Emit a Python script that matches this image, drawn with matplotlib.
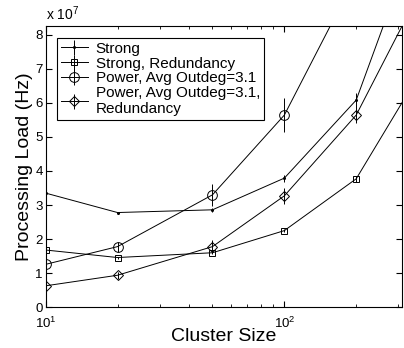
import numpy as np
import matplotlib
matplotlib.use("Agg")
import matplotlib.pyplot as plt

plt.rcParams['font.family'] = ['Liberation Sans', 'DejaVu Sans']
plt.rcParams['mathtext.fontset'] = 'custom'
plt.rcParams['mathtext.rm'] = 'Liberation Sans'

# cluster sizes (last point lies beyond the axis and is clipped)
sizes = [10, 20, 50, 100, 200, 500]

# processing load, in units of 1e7 Hz
strong = [3.35, 2.78, 2.86, 3.79, 6.08, 13.7]
strong_err = [0.0, 0.03, 0.05, 0.1, 0.22, 0.3]
strong_red = [1.68, 1.46, 1.60, 2.25, 3.77, 8.4]
strong_red_err = [0.0, 0.03, 0.05, 0.05, 0.08, 0.1]
power = [1.26, 1.78, 3.30, 5.64, 9.73, 20.0]
power_err = [0.05, 0.15, 0.33, 0.49, 0.6, 0.8]
power_red = [0.63, 0.94, 1.78, 3.27, 5.64, 11.05]
power_red_err = [0.03, 0.1, 0.2, 0.23, 0.23, 0.3]

labels = ['Strong', 'Strong, Redundancy', 'Power, Avg Outdeg=3.1',
          'Power, Avg Outdeg=3.1,\nRedundancy']

fig = plt.figure(figsize=(4.04, 3.48), dpi=100)
ax = fig.add_axes([0.113, 0.117, 0.882, 0.808])

series = [(strong, strong_err, '.', 3),
          (strong_red, strong_red_err, 's', 5),
          (power, power_err, 'o', 7),
          (power_red, power_red_err, 'D', 5.5)]

handles = []
for (vals, err, mk, ms), lab in zip(series, labels):
    h = ax.errorbar(sizes, vals, yerr=err, color='black', lw=0.7, elinewidth=0.7,
                    capsize=0, marker=mk, ms=ms, mfc='none', mec='black', mew=0.7,
                    label=lab)
    handles.append(h)

ax.set_xscale('log')
ax.set_xlim(10, 311)
ax.set_ylim(0, 8.25)
ax.set_yticks(range(0, 9))
ax.tick_params(which='both', direction='in', top=True, right=True, labelsize=9.5, pad=2)
ax.tick_params(axis='x', which='both', pad=6)
ax.tick_params(which='major', length=4)
ax.tick_params(which='minor', length=2.5)
for s in ax.spines.values():
    s.set_linewidth(0.8)

ax.set_xlabel('Cluster Size', fontsize=14, labelpad=-2)
ax.set_ylabel('Processing Load (Hz)', fontsize=14, labelpad=2)
ax.text(0.0, 1.01, r'x $10^{7}$', transform=ax.transAxes, fontsize=10, va='bottom')

leg = ax.legend(handles=handles, loc='upper left', fontsize=11, handlelength=1.8,
                labelspacing=0.05, borderpad=0.25, handletextpad=0.5,
                fancybox=False, edgecolor='black', framealpha=1,
                bbox_to_anchor=(0.01, 0.985))
leg.get_frame().set_linewidth(0.8)

fig.savefig('out.png', dpi=100)
